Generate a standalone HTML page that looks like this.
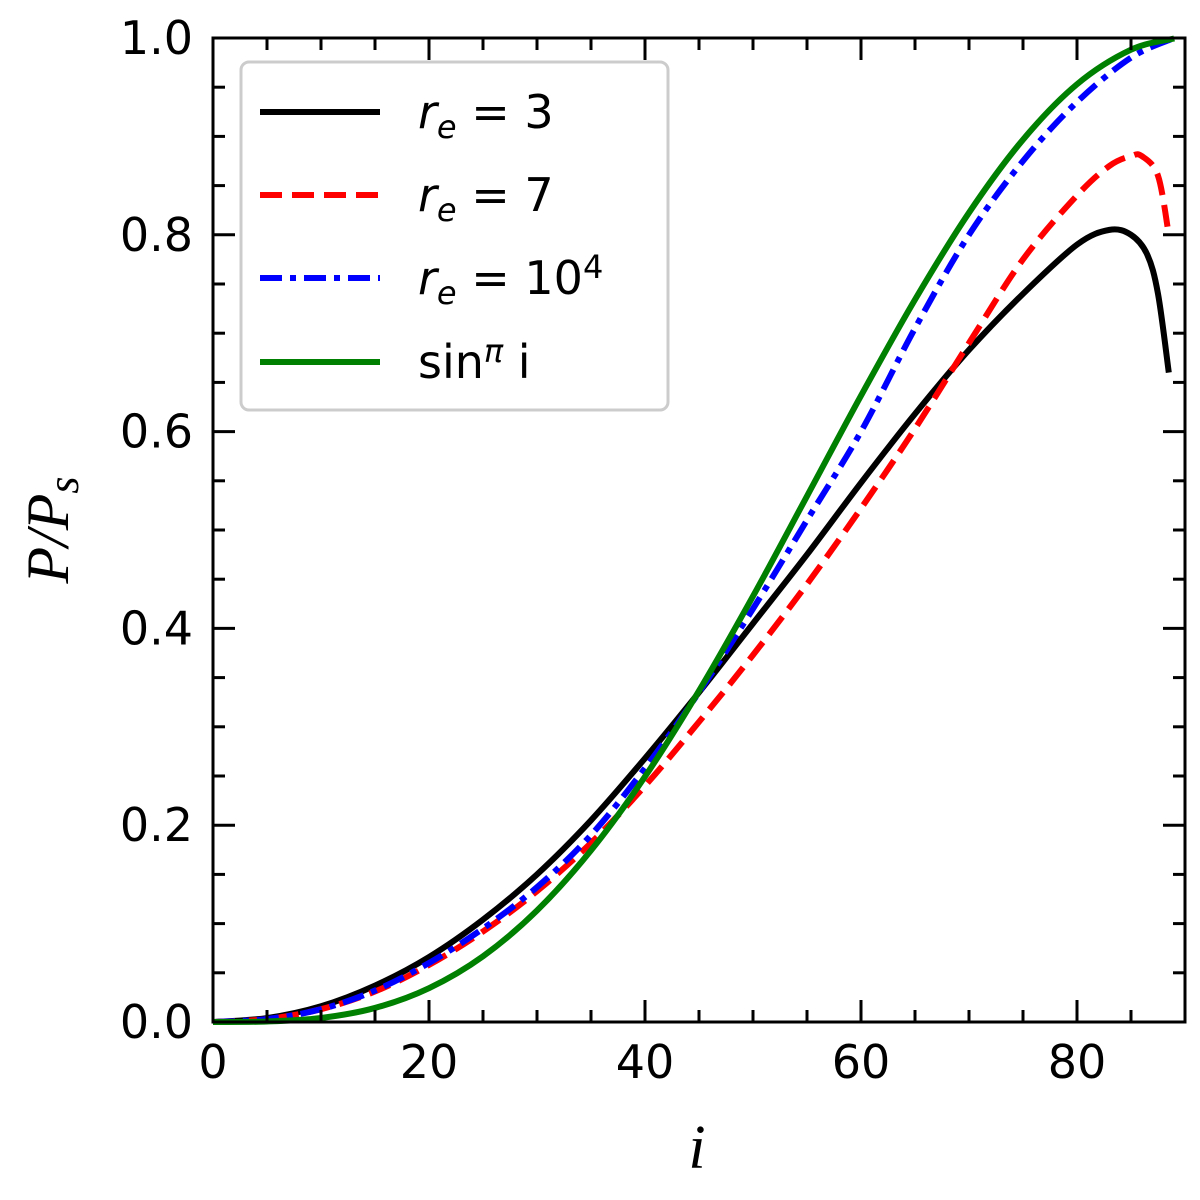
<!DOCTYPE html>
<html><head><meta charset="utf-8"><style>
html,body{margin:0;padding:0;background:#fff;}
svg{display:block;}
text{font-family:"DejaVu Sans","Liberation Sans",sans-serif;}
</style></head><body>
<svg id="chart" width="1200" height="1200" xmlns="http://www.w3.org/2000/svg">
<g id="grid"></g>
<g id="series"></g>
<rect x="213" y="38" width="972" height="984" fill="none" stroke="#000" stroke-width="3"/>
<g id="ticks"></g>
<text x="697" y="1168" style="font-family:'Liberation Serif',serif;font-style:italic" font-size="62" text-anchor="middle">i</text>
<text transform="translate(68,530) rotate(-90)" style="font-family:'Liberation Serif',serif;font-style:italic" font-size="60" text-anchor="middle">P/P<tspan font-size="44" dy="10">s</tspan></text>
<g>
<rect x="241" y="62" width="427" height="348" rx="8" fill="#fff" fill-opacity="0.8" stroke="#ccc" stroke-width="3"/>
<g><line x1="260" y1="112" x2="380" y2="112" stroke="#000" stroke-width="6"/><text x="418" y="128" font-size="46"><tspan font-style="italic">r</tspan><tspan font-size="32" font-style="italic" dy="10">e</tspan><tspan dy="-10"> = 3</tspan></text></g>
<g><line x1="260" y1="195" x2="380" y2="195" stroke="#f00" stroke-width="6" stroke-dasharray="22,10"/><text x="418" y="211" font-size="46"><tspan font-style="italic">r</tspan><tspan font-size="32" font-style="italic" dy="10">e</tspan><tspan dy="-10"> = 7</tspan></text></g>
<g><line x1="260" y1="278" x2="380" y2="278" stroke="#00f" stroke-width="6" stroke-dasharray="22,8,6,8"/><text x="418" y="294" font-size="46"><tspan font-style="italic">r</tspan><tspan font-size="32" font-style="italic" dy="10">e</tspan><tspan dy="-10"> = 10</tspan><tspan font-size="32" dy="-16">4</tspan></text></g>
<g><line x1="260" y1="362" x2="380" y2="362" stroke="#008000" stroke-width="6"/><text x="418" y="378" font-size="46">sin<tspan font-size="32" dy="-16" font-style="italic">π</tspan><tspan dy="16"> i</tspan></text></g>
</g>
</svg>
<script>
const xTicks=[0,20,40,60,80];
const yTicks=[0,0.2,0.4,0.6,0.8,1.0];
const yTickLabels=["0.0","0.2","0.4","0.6","0.8","1.0"];
const xRe3=[0,5,10,15,20,25,30,35,40,45,50,55,60,65,70,75,80,83,85,86.5,87.5,88.5];
const yRe3=[0,0.004,0.016,0.037,0.066,0.104,0.15,0.205,0.268,0.335,0.405,0.475,0.548,0.618,0.683,0.74,0.79,0.805,0.8,0.78,0.74,0.66];
const xRe7=[0,5,10,15,20,25,30,35,40,45,50,55,60,65,70,75,80,83,85,86,87.5,88.5];
const yRe7=[0,0.003,0.013,0.031,0.058,0.092,0.133,0.182,0.24,0.305,0.373,0.445,0.522,0.603,0.69,0.775,0.84,0.87,0.88,0.88,0.86,0.8];
const xRe4=[0,5,10,15,20,25,30,35,40,45,50,55,60,65,70,75,80,85,89];
const yRe4=[0,0.003,0.013,0.032,0.06,0.095,0.137,0.19,0.258,0.335,0.42,0.51,0.6,0.705,0.8,0.875,0.935,0.98,1.0];
const xSin=[0,5,10,15,20,25,30,35,40,45,50,55,60,65,70,75,80,85,89];
const ySin=[0,0.0005,0.0041,0.0143,0.0344,0.0668,0.1133,0.1744,0.2494,0.3366,0.4327,0.5344,0.6365,0.7341,0.8225,0.8967,0.953,0.9881,0.9995];
const NS="http://www.w3.org/2000/svg";
const X=v=>213+v*10.8, Y=v=>1022-v*984;
const tk=document.getElementById('ticks');
function ln(x1,y1,x2,y2,w){const l=document.createElementNS(NS,'line');l.setAttribute('x1',x1);l.setAttribute('y1',y1);l.setAttribute('x2',x2);l.setAttribute('y2',y2);l.setAttribute('stroke','#000');l.setAttribute('stroke-width',w);


tk.appendChild(l);}
for(let v=0;v<=90;v+=5){const maj=v%20===0,L=maj?22:12,x=X(v);ln(x,1022,x,1022-L,3);ln(x,38,x,38+L,3);}
for(let k=0;k<=20;k++){const v=k*0.05,maj=k%4===0,L=maj?22:12,y=Y(v);ln(213,y,213+L,y,3);ln(1185,y,1185-L,y,3);}
xTicks.forEach(v=>{const t=document.createElementNS(NS,'text');t.setAttribute('x',X(v));t.setAttribute('y',1078);t.setAttribute('font-size','46');t.setAttribute('text-anchor','middle');t.textContent=v;


tk.appendChild(t);});
yTicks.forEach((v,i)=>{const t=document.createElementNS(NS,'text');t.setAttribute('x',193);t.setAttribute('y',Y(v)+16);t.setAttribute('font-size','46');t.setAttribute('text-anchor','end');t.textContent=yTickLabels[i];


tk.appendChild(t);});
const sg=document.getElementById('series');
function path(xs,ys){let d='';const p=xs.map((x,i)=>[X(x),Y(ys[i])]);
d='M'+p[0][0]+','+p[0][1];
for(let i=0;i<p.length-1;i++){const p0=p[i-1]||p[i],p1=p[i],p2=p[i+1],p3=p[i+2]||p2;
const c1=[p1[0]+(p2[0]-p0[0])/6,p1[1]+(p2[1]-p0[1])/6],c2=[p2[0]-(p3[0]-p1[0])/6,p2[1]-(p3[1]-p1[1])/6];
d+=' C'+c1+' '+c2+' '+p2;}return d;}
function addLine(xs,ys,color,dash,name){const p=document.createElementNS(NS,'path');p.setAttribute('d',path(xs,ys));p.setAttribute('fill','none');p.setAttribute('stroke',color);p.setAttribute('stroke-width','6');if(dash)p.setAttribute('stroke-dasharray',dash);


sg.appendChild(p);}
addLine(xRe3,yRe3,'#000',null,'line-re3');
addLine(xRe7,yRe7,'#f00','22,10','line-re7');
addLine(xRe4,yRe4,'#00f','22,8,6,8','line-re1e4');
addLine(xSin,ySin,'#008000',null,'line-sin-pi');
</script>
</body></html>
